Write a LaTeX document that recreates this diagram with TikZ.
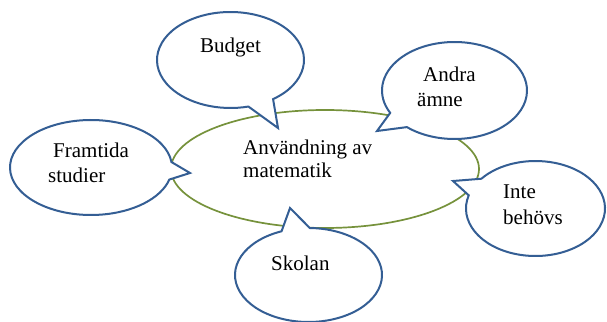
\documentclass[tikz,border=0pt]{standalone}
\usepackage{fontspec}
\setmainfont{Liberation Serif}
\definecolor{cblue}{RGB}{52,94,148}
\definecolor{cgreen}{RGB}{118,146,60}
\begin{document}
\begin{tikzpicture}[x=1pt,y=1pt,
  callout/.style={draw=cblue,line width=2pt,fill=white,line join=miter},
  mainell/.style={draw=cgreen,line width=1.7pt},
  lbl/.style={anchor=base west,inner sep=0pt,font=\fontsize{21}{24}\selectfont}]
\useasboundingbox (0,0) rectangle (607,321);
% central ellipse
\coordinate (cm) at (325,152);
\draw[mainell] (cm) ellipse [x radius=154, y radius=59];
% Budget
\coordinate (cb) at (230.5,261);
\coordinate (tb) at (278,193);
\draw[callout] (cb) ++(-54.6:73.5 and 48) arc[start angle=-54.6, end angle=284.1, x radius=73.5, y radius=48] -- (tb) -- cycle;
% Andra amne
\coordinate (ca) at (454.5,230.5);
\coordinate (ta) at (377,190);
\draw[callout] (ca) ++(229:72.5 and 48.5) arc[start angle=229, end angle=567.5, x radius=72.5, y radius=48.5] -- (ta) -- cycle;
% Inte behovs
\coordinate (ci) at (535.5,112.5);
\coordinate (ti) at (453,140);
\draw[callout] (ci) ++(163.9:69.5 and 47.5) arc[start angle=163.9, end angle=501.2, x radius=69.5, y radius=47.5] -- (ti) -- cycle;
% Framtida studier
\coordinate (cf) at (91,153.5);
\coordinate (tf) at (190,148);
\draw[callout] (cf) ++(6.6:81 and 47.5) arc[start angle=6.6, end angle=345.3, x radius=81, y radius=47.5] -- (tf) -- cycle;
% Skolan
\coordinate (cs) at (308.5,46);
\coordinate (ts) at (290,113);
\draw[callout] (cs) ++(111.5:73.5 and 47) arc[start angle=111.5, end angle=449, x radius=73.5, y radius=47] -- (ts) -- cycle;
% texts
\node[lbl] (t1) at (243,166) {Användning av};
\node[lbl] (t2) at (243,143) {matematik};
\node[lbl] (t3) at (200,268) {Budget};
\node[lbl] (t4) at (423,239) {Andra};
\node[lbl] (t5) at (417,214) {ämne};
\node[lbl] (t6) at (53,163) {Framtida};
\node[lbl] (t7) at (48,138) {studier};
\node[lbl] (t8) at (503,122) {Inte};
\node[lbl] (t9) at (503,96) {behövs};
\node[lbl] (t10) at (271,50) {Skolan};
\end{tikzpicture}
\end{document}
